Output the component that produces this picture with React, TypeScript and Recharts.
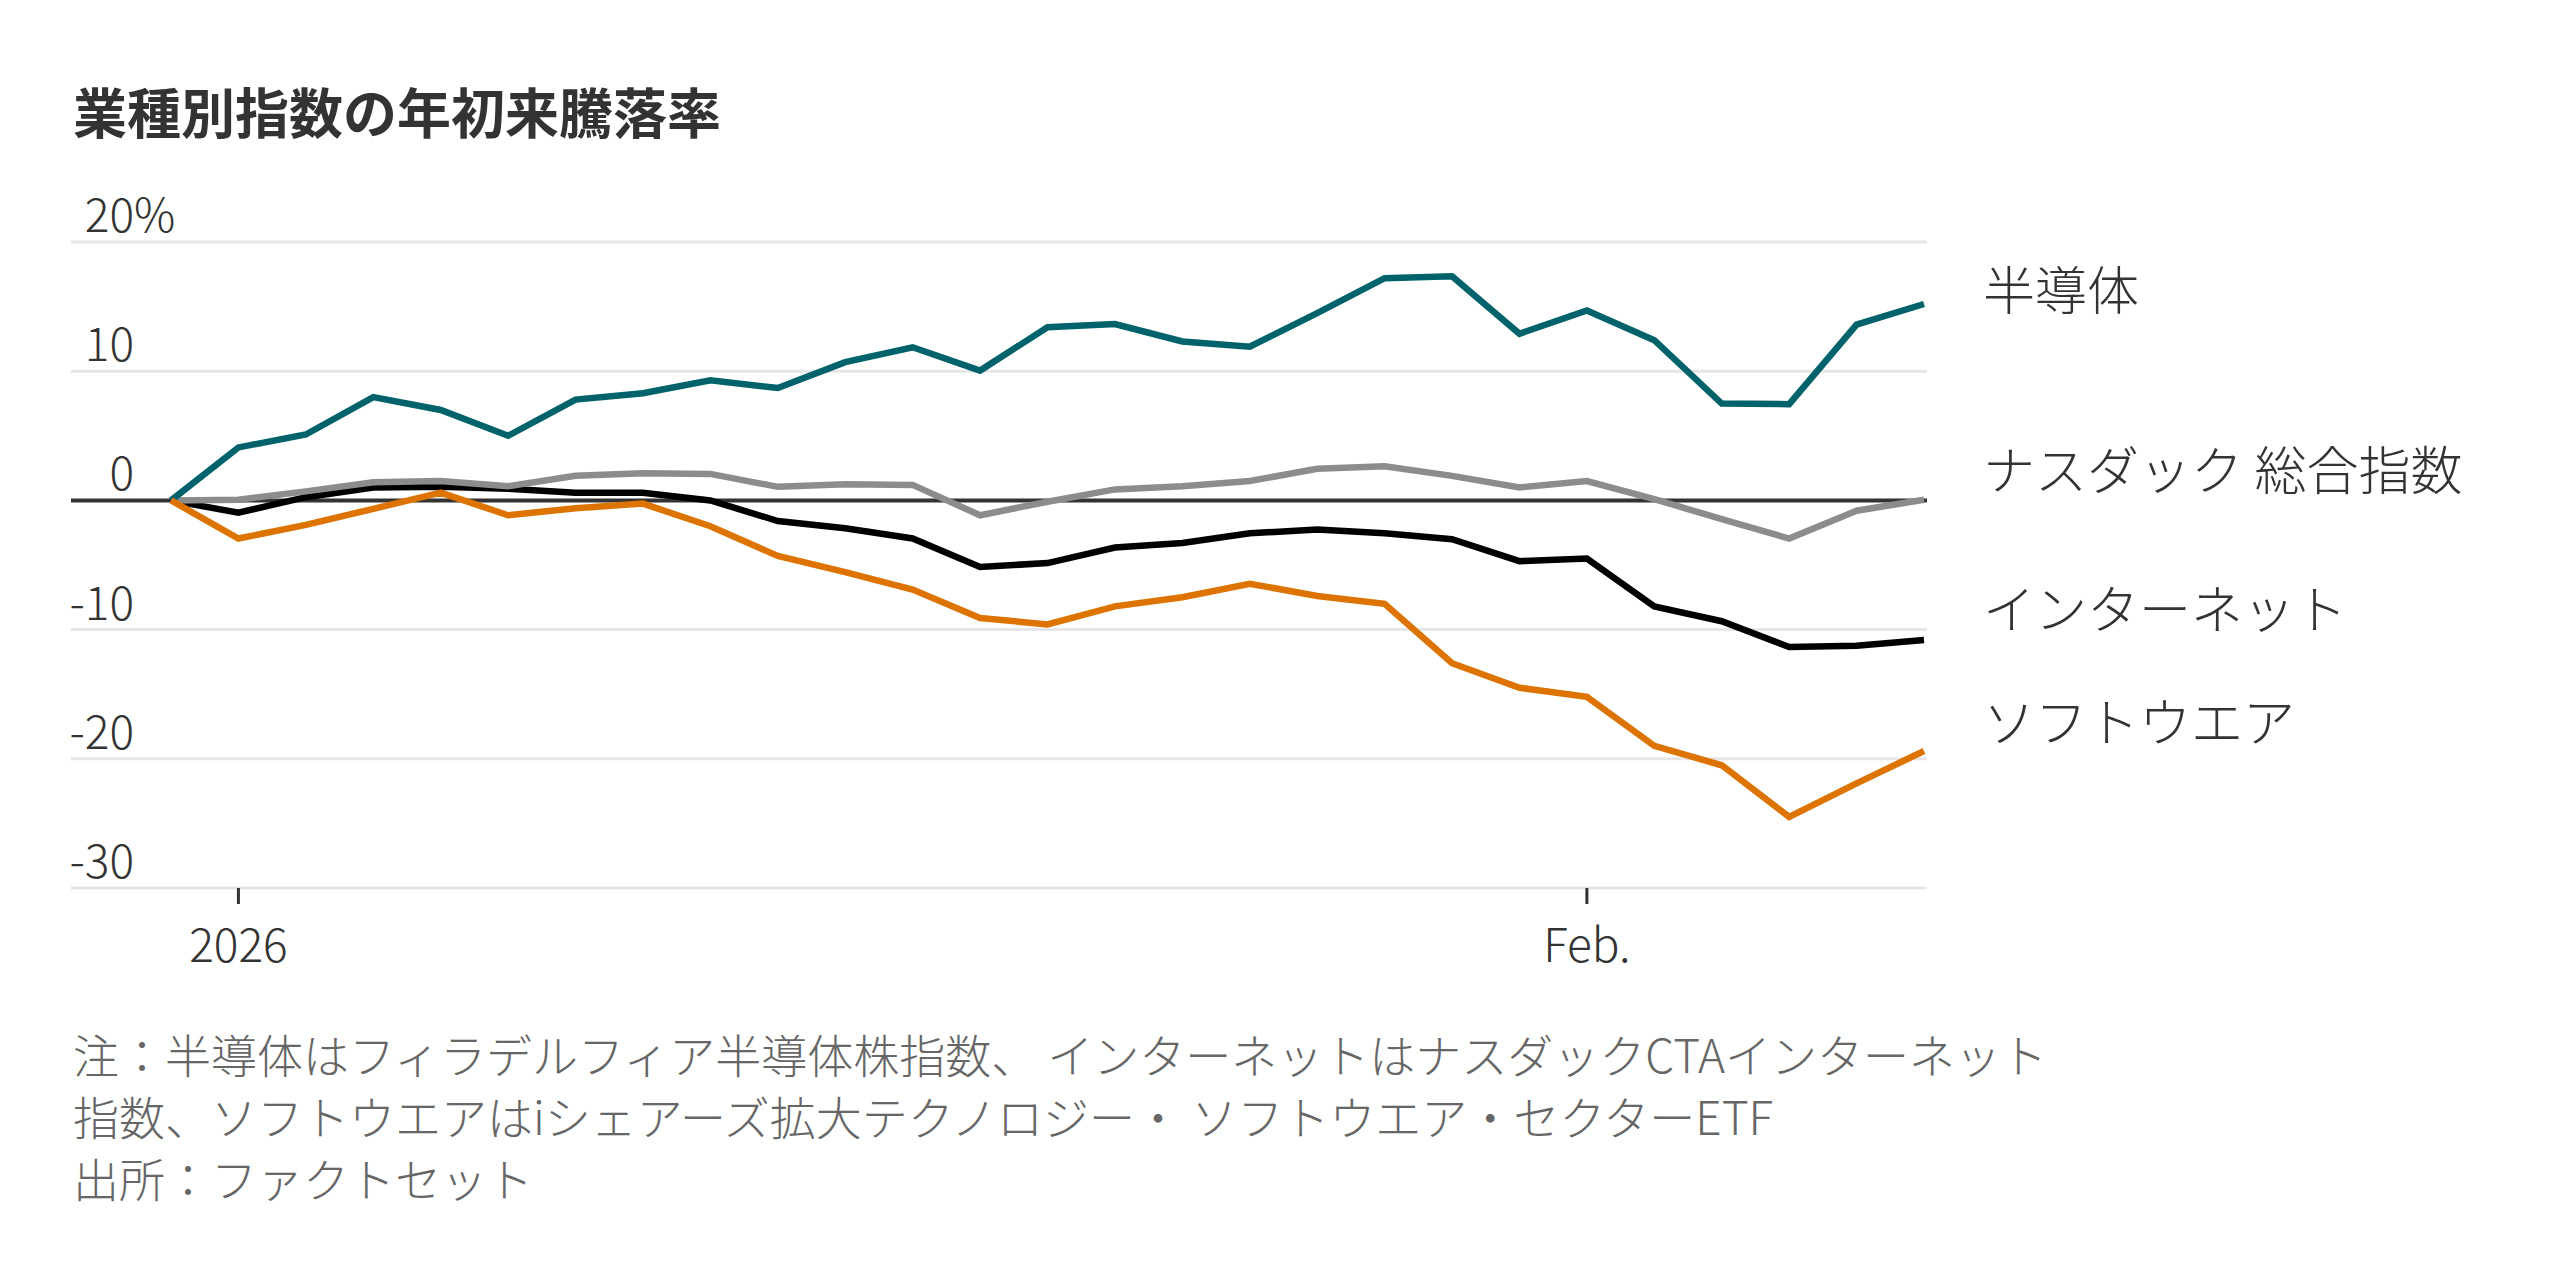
import { CartesianGrid, Line, LineChart, ReferenceLine, XAxis, YAxis } from "recharts";

const FONT = '"Noto Sans CJK JP", "Noto Sans", sans-serif';

// trading days, 2025-12-31 base
const dates = [
  "2025-12-31", "2026-01-02", "2026-01-05", "2026-01-06", "2026-01-07", "2026-01-08",
  "2026-01-09", "2026-01-12", "2026-01-13", "2026-01-14", "2026-01-15", "2026-01-16",
  "2026-01-20", "2026-01-21", "2026-01-22", "2026-01-23", "2026-01-26", "2026-01-27",
  "2026-01-28", "2026-01-29", "2026-01-30", "2026-02-02", "2026-02-03", "2026-02-04",
  "2026-02-05", "2026-02-06", "2026-02-09",
];

const semis = [
  0, 4.1, 5.1, 8.0, 7.0, 5.0, 7.8, 8.3, 9.3, 8.7, 10.7, 11.85, 10.05, 13.4,
  13.65, 12.3, 11.9, 14.5, 17.2, 17.35, 12.9, 14.7, 12.4, 7.5, 7.45, 13.6, 15.2,
];
const nasdaq = [
  0, 0.05, 0.7, 1.4, 1.5, 1.1, 1.9, 2.1, 2.05, 1.05, 1.25, 1.2, -1.15, -0.1,
  0.85, 1.1, 1.5, 2.45, 2.65, 1.9, 1.0, 1.5, 0.1, -1.45, -2.95, -0.8, 0.05,
];
const internet = [
  0, -0.95, 0.25, 1.0, 1.05, 0.9, 0.6, 0.6, 0.0, -1.6, -2.15, -2.95, -5.15, -4.85,
  -3.65, -3.3, -2.55, -2.25, -2.55, -3.0, -4.7, -4.5, -8.2, -9.35, -11.35, -11.25, -10.8,
];
const software = [
  0, -2.95, -1.9, -0.65, 0.6, -1.15, -0.6, -0.25, -2.0, -4.3, -5.55, -6.9, -9.1, -9.6,
  -8.2, -7.5, -6.45, -7.4, -8.0, -12.6, -14.5, -15.2, -19.0, -20.5, -24.5, -21.9, -19.4,
];

const yTicks = [-30, -20, -10, 0, 10, 20];
const xTicks = ["2026-01-02", "2026-02-02"];
const xTickLabels: Record<string, string> = { "2026-01-02": "2026", "2026-02-02": "Feb." };

const data = dates.map((date, i) => ({
  date,
  semis: semis[i],
  nasdaq: nasdaq[i],
  internet: internet[i],
  software: software[i],
}));

const SERIES = [
  { key: "internet", name: "インターネット", color: "#000000", dy: -33 },
  { key: "nasdaq", name: "ナスダック 総合指数", color: "#8c8c8c", dy: -32 },
  { key: "semis", name: "半導体", color: "#00626b", dy: -17 },
  { key: "software", name: "ソフトウエア", color: "#dd7300", dy: -32 },
];

const PLOT_LEFT = 71;
const PLOT_WIDTH = 1856;

// y value labels sit above their gridline: digits right-aligned, "%" hangs past on the top one
function yLabel(value: number) {
  return (props: any) => {
    const vb = props.viewBox || {};
    const tx = PLOT_LEFT + 63;
    const ty = vb.y - 10;
    return (
      <g>
        <text x={tx} y={ty} textAnchor="end" fontSize={46} fontWeight={300} fill="#333" fontFamily={FONT}>
          {value}
        </text>
        {value === yTicks[yTicks.length - 1] && (
          <text x={tx} y={ty} textAnchor="start" fontSize={46} fontWeight={300} fill="#333" fontFamily={FONT}>
            %
          </text>
        )}
      </g>
    );
  };
}

function XTick({ x, y, payload }: any) {
  return (
    <text x={x} y={y + 36} textAnchor="middle" dominantBaseline="central" fontSize={46} fontWeight={300} fill="#333" fontFamily={FONT}>
      {xTickLabels[payload.value] ?? payload.value}
    </text>
  );
}

export default function App() {
  const last = dates.length - 1;
  return (
    <div style={{ position: "absolute", left: 0, top: 0, width: 2560, height: 1280, background: "#fff", fontFamily: FONT }}>
      <div style={{ position: "absolute", left: 73, top: 84, fontSize: 54, lineHeight: "54px", fontWeight: 700, color: "#333" }}>
        業種別指数の年初来騰落率
      </div>
      <LineChart width={2560} height={1280} data={data} margin={{ top: 242, right: 633, bottom: 332, left: PLOT_LEFT }}>
        <CartesianGrid vertical={false} stroke="#e6e6e6" strokeWidth={3} x={PLOT_LEFT} width={PLOT_WIDTH} />
        <XAxis
          dataKey="date"
          ticks={xTicks}
          interval={0}
          padding={{ left: 100, right: 3 }}
          axisLine={false}
          tickLine={{ stroke: "#333", strokeWidth: 3 }}
          tickSize={16}
          height={60}
          tick={(p: any) => <XTick {...p} />}
        />
        <YAxis domain={[-30, 20]} ticks={yTicks} interval={0} width={0} axisLine={false} tickLine={false} />
        {yTicks.map((v) => (
          <ReferenceLine
            key={"yl" + v}
            y={v}
            stroke={v === 0 ? "#333" : "none"}
            strokeWidth={v === 0 ? 4 : 0}
            label={yLabel(v)}
          />
        ))}
        {SERIES.map((s) => (
          <Line
            key={s.key}
            type="linear"
            dataKey={s.key}
            stroke={s.color}
            strokeWidth={6.5}
            dot={false}
            activeDot={false}
            isAnimationActive={false}
            label={(p: any) =>
              p.index === last ? (
                <text
                  key={s.key + "-label"}
                  x={p.x + 59}
                  y={p.y + s.dy}
                  dominantBaseline="central"
                  fontSize={52}
                  fontWeight={300}
                  fill="#333"
                  fontFamily={FONT}
                >
                  {s.name}
                </text>
              ) : null
            }
          />
        ))}
      </LineChart>
      <div style={{ position: "absolute", left: 73, top: 1022, fontSize: 46, lineHeight: "62px", fontWeight: 300, color: "#666" }}>
        <div>注：半導体はフィラデルフィア半導体株指数、 インターネットはナスダックCTAインターネット</div>
        <div>指数、ソフトウエアはiシェアーズ拡大テクノロジー・ ソフトウエア・セクターETF</div>
        <div>出所：ファクトセット</div>
      </div>
    </div>
  );
}
